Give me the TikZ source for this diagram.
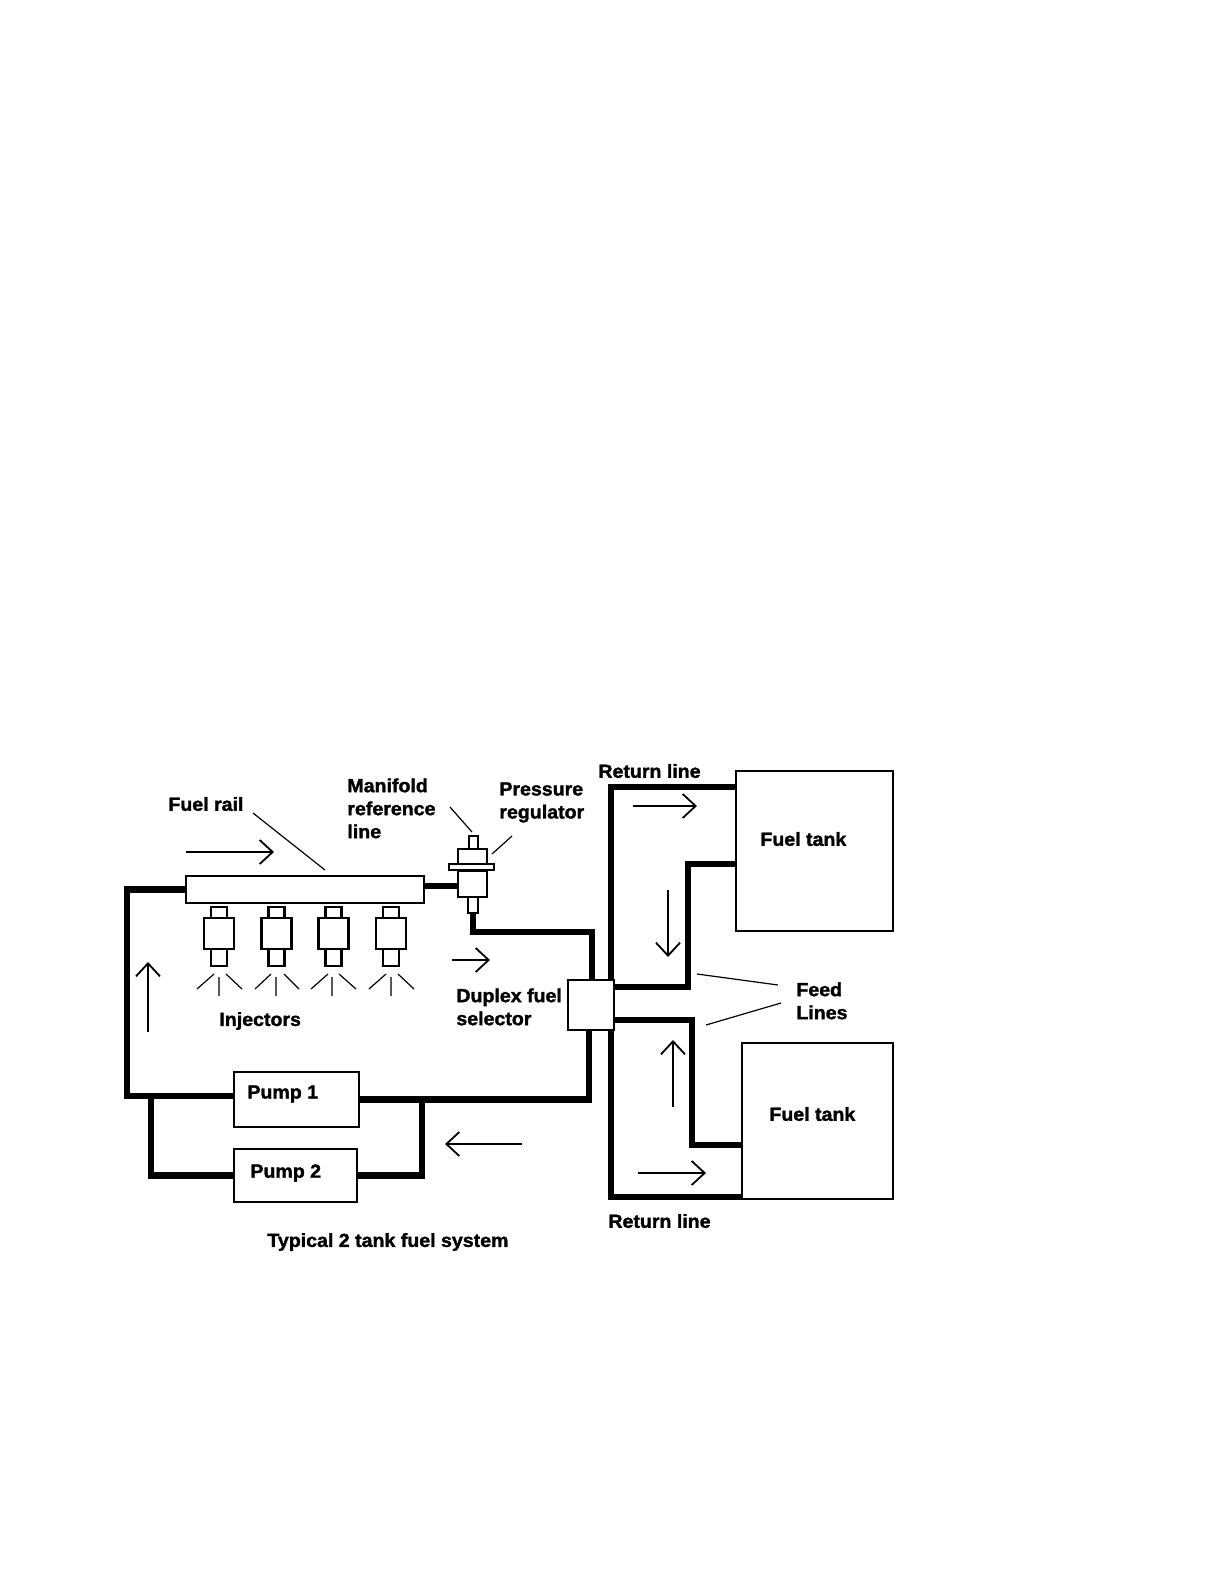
\documentclass[tikz,border=0pt]{standalone}
\usepackage{fontspec}
\setmainfont[FakeBold=1.6, FakeStretch=1.03]{Liberation Sans Bold}
\usetikzlibrary{arrows.meta}
\begin{document}
\begin{tikzpicture}[x=0.5pt, y=-0.5pt,
	font=\fontsize{9.5}{11.5}\selectfont,
	part/.style={draw, line width=1.1pt, inner sep=0pt, outer sep=0pt},
	pipe/.style={line width=3.2pt},
	flow/.style={line width=0.9pt, -{Straight Barb[length=6.5pt, width=12pt, line width=0.9pt]}},
	leader/.style={line width=0.6pt},
	label/.style={anchor=west, align=left, inner sep=0pt}]
	\useasboundingbox (0,0) rectangle (1224,1584);
	% rail and injectors
	\node[part, minimum width=119pt, minimum height=13.5pt] (rail) at (305,889.5) {};
	\node[part, minimum width=15pt, minimum height=15.5pt] (inja) at (219,933.5) {};
	\node[part, minimum width=15pt, minimum height=15.5pt] (injb) at (276.5,933.5) {};
	\node[part, minimum width=15pt, minimum height=15.5pt] (injc) at (333.5,933.5) {};
	\node[part, minimum width=15pt, minimum height=15.5pt] (injd) at (391,933.5) {};
	\node[part, minimum width=8pt, minimum height=5.5pt] (inja top) at (219,912.5) {};
	\node[part, minimum width=8pt, minimum height=5.5pt] (injb top) at (276.5,912.5) {};
	\node[part, minimum width=8pt, minimum height=5.5pt] (injc top) at (333.5,912.5) {};
	\node[part, minimum width=8pt, minimum height=5.5pt] (injd top) at (391,912.5) {};
	\node[part, minimum width=8pt, minimum height=8.5pt] (inja tip) at (219,957.5) {};
	\node[part, minimum width=8pt, minimum height=8.5pt] (injb tip) at (276.5,957.5) {};
	\node[part, minimum width=8pt, minimum height=8.5pt] (injc tip) at (333.5,957.5) {};
	\node[part, minimum width=8pt, minimum height=8.5pt] (injd tip) at (391,957.5) {};
	% spray
	\draw[leader] (197,989) -- (214,974) (219,977) -- (219,996) (226,974) -- (242,989);
	\draw[leader] (255,989) -- (271,974) (276,977) -- (276,996) (284,974) -- (299,989);
	\draw[leader] (311,989) -- (328,974) (332,977) -- (332,996) (339,974) -- (356,989);
	\draw[leader] (369,989) -- (386,974) (391,977) -- (391,996) (398,974) -- (414,989);
	% regulator
	\node[part, minimum width=4.5pt, minimum height=6.5pt] (regtop) at (473.5,842.5) {};
	\node[part, minimum width=14.5pt, minimum height=7.5pt] (regup) at (472.5,856.5) {};
	\node[part, minimum width=22.5pt, minimum height=3pt] (regflange) at (471.5,867) {};
	\node[part, minimum width=14.5pt, minimum height=13pt] (reglow) at (472.5,884) {};
	\node[part, minimum width=5pt, minimum height=8pt] (regstub) at (473,905) {};
	% selector, pumps and tanks
	\node[part, minimum width=23pt, minimum height=25pt] (selector) at (591,1005) {};
	\node[part, minimum width=62.5pt, minimum height=27.5pt] (pumpa) at (296.5,1099.5) {};
	\node[part, minimum width=61.5pt, minimum height=26.5pt] (pumpb) at (295.5,1175.5) {};
	\node[part, minimum width=78.5pt, minimum height=80pt] (tanka) at (814.5,851) {};
	\node[part, minimum width=75.5pt, minimum height=78pt] (tankb) at (817.5,1121) {};
	% bends
	\coordinate (leftdrop) at (127,1096);
	\coordinate (pumpl) at (151,1096);
	\coordinate (pumpr) at (422,1099);
	\coordinate (selin) at (589,1030);
	\coordinate (regbend) at (592,932);
	\coordinate (rettop) at (611,787);
	\coordinate (retbot) at (611,1197);
	\coordinate (feedtop) at (688,864);
	\coordinate (feedsel) at (688,987);
	\coordinate (feedlow) at (692,1020);
	\coordinate (feedbot) at (692,1145);
	% fuel lines
	\draw[pipe] (rail.west) -| (leftdrop) -- (pumpa.west |- leftdrop);
	\draw[pipe] (pumpl) |- (pumpb.west);
	\draw[pipe] (pumpa.east) -| (selin);
	\draw[pipe] (pumpr) |- (pumpb.east);
	\draw[pipe] (rail.east |- 0,886) -- (reglow.west |- 0,886);
	\draw[pipe] (regstub.south) |- (regbend) -- (regbend |- selector.north);
	\draw[pipe] (rettop |- selector.north) -- (rettop) -- (rettop -| tanka.west);
	\draw[pipe] (retbot |- selector.south) -- (retbot) -- (retbot -| tankb.west);
	\draw[pipe] (feedtop -| tanka.west) -- (feedtop) -- (feedsel) -- (feedsel -| selector.east);
	\draw[pipe] (feedlow -| selector.east) -- (feedlow) -- (feedbot) -- (feedbot -| tankb.west);
	% flow arrows
	\coordinate (fa) at (186,852); \coordinate (fb) at (274,852); \draw[flow] (fa) -- (fb);
	\coordinate (fc) at (148,1032); \coordinate (fd) at (148,962); \draw[flow] (fc) -- (fd);
	\coordinate (fe) at (452,960); \coordinate (ff) at (490,960); \draw[flow] (fe) -- (ff);
	\coordinate (fg) at (633,806); \coordinate (fh) at (697,806); \draw[flow] (fg) -- (fh);
	\coordinate (fi) at (668,890); \coordinate (fj) at (668,957); \draw[flow] (fi) -- (fj);
	\coordinate (fk) at (673,1107); \coordinate (fl) at (673,1040); \draw[flow] (fk) -- (fl);
	\coordinate (fm) at (638,1173); \coordinate (fn) at (706,1173); \draw[flow] (fm) -- (fn);
	\coordinate (fo) at (522,1144); \coordinate (fp) at (445,1144); \draw[flow] (fo) -- (fp);
	% labels
	\node[label] (railtxt) at (168,804) {Fuel rail};
	\node[label, anchor=north west] (manifoldtxt) at (347,778) {Manifold\\reference\\line};
	\node[label, anchor=north west] (regtxt) at (499,782) {Pressure\\regulator};
	\node[label] (injtxt) at (219,1021) {Injectors};
	\node[label, anchor=north west] (seltxt) at (456,988) {Duplex fuel\\selector};
	\node[label] (rettxta) at (598,771) {Return line};
	\node[label] (rettxtb) at (608,1221) {Return line};
	\node[label] (tanktxta) at (760,839) {Fuel tank};
	\node[label] (tanktxtb) at (769,1114) {Fuel tank};
	\node[label, anchor=north west] (feedtxt) at (796,982) {Feed\\Lines};
	\node[label] (pumptxta) at (247,1094) {Pump 1};
	\node[label] (pumptxtb) at (250,1173) {Pump 2};
	\node[label] (title) at (267,1242) {Typical 2 tank fuel system};
	% leaders
	\coordinate (la) at (253,813); \coordinate (lj) at (325,870); \draw[leader] (la) -- (lj);
	\coordinate (lb) at (450,807); \coordinate (lc) at (472,832); \draw[leader] (lb) -- (lc);
	\coordinate (ld) at (512,836); \coordinate (le) at (492,854); \draw[leader] (ld) -- (le);
	\coordinate (lf) at (778,985); \coordinate (lg) at (697,974); \draw[leader] (lf) -- (lg);
	\coordinate (lh) at (781,1003); \coordinate (li) at (706,1025); \draw[leader] (lh) -- (li);
\end{tikzpicture}
\end{document}
